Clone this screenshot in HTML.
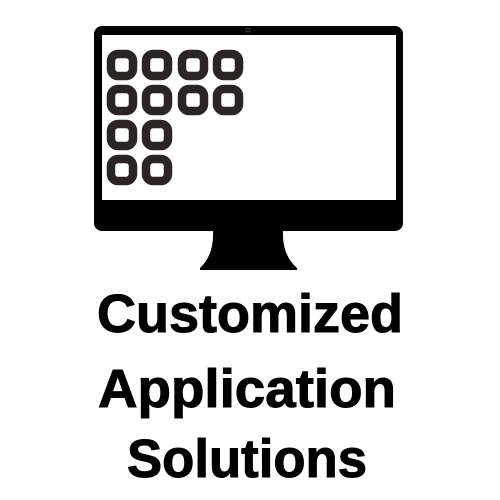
<!DOCTYPE html>
<html><head><style>html,body{margin:0;padding:0;background:#fff;width:500px;height:500px;overflow:hidden}</style></head>
<body>
<svg width="500" height="500" viewBox="0 0 500 500" xmlns="http://www.w3.org/2000/svg">
<rect x="94" y="26" width="309" height="205" rx="8" fill="#000"/>
<rect x="102" y="35" width="294" height="165" fill="#fff"/>
<circle cx="248" cy="30" r="2" fill="none" stroke="#555" stroke-width="0.8"/>
<path d="M213 231 L283 231 Q282 255 297 268 L297 270 L200 270 L200 268 Q214 255 213 231 Z" fill="#000"/>
<g fill="none" stroke="#2a2424" stroke-width="8.5">
<rect x="111" y="54" width="22" height="22" rx="7"/>
<rect x="146" y="54" width="22" height="22" rx="7"/>
<rect x="182" y="54" width="22" height="22" rx="7"/>
<rect x="217" y="54" width="22" height="22" rx="7"/>
<rect x="111" y="89" width="22" height="22" rx="7"/>
<rect x="146" y="89" width="22" height="22" rx="7"/>
<rect x="182" y="89" width="22" height="22" rx="7"/>
<rect x="217" y="89" width="22" height="22" rx="7"/>
<rect x="111" y="124" width="22" height="22" rx="7"/>
<rect x="146" y="124" width="22" height="22" rx="7"/>
<rect x="111" y="159" width="22" height="22" rx="7"/>
<rect x="146" y="159" width="22" height="22" rx="7"/>
</g>
<g font-family="Liberation Sans, sans-serif" font-weight="bold" font-size="54" fill="#000" stroke="#000" stroke-width="1">
<text x="97" y="332" textLength="306" lengthAdjust="spacingAndGlyphs">Customized</text>
<text x="98" y="407" textLength="298" lengthAdjust="spacingAndGlyphs">Application</text>
<text x="127" y="477" textLength="240" lengthAdjust="spacingAndGlyphs">Solutions</text>
</g>
</svg>
</body></html>
